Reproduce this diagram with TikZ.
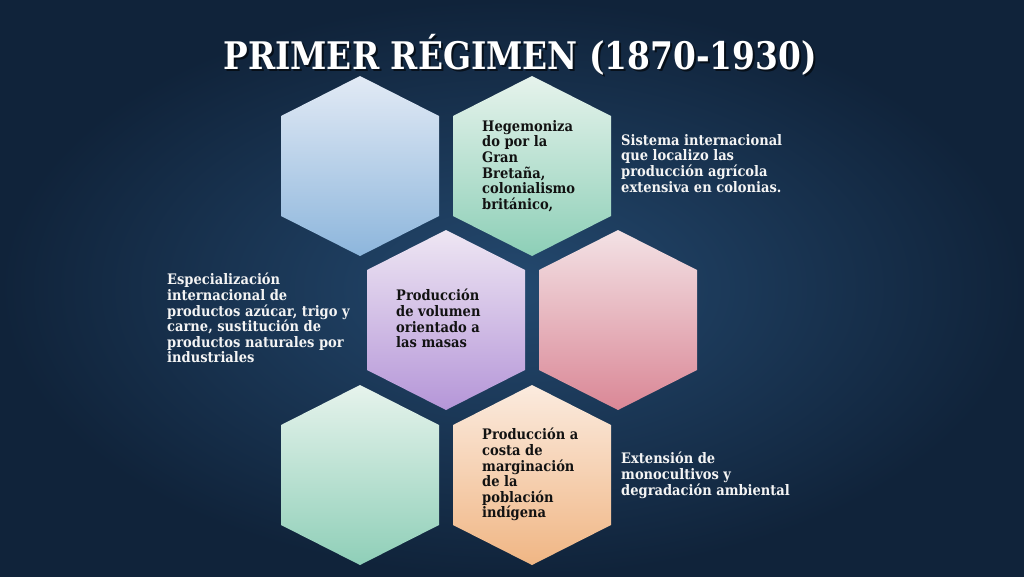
\documentclass[tikz,border=0pt]{standalone}
\usepackage{fontspec}
\newfontfamily\slab{DejaVu Serif}[FakeStretch=0.9]
\usetikzlibrary{shadings}
\definecolor{bgin}{HTML}{24496F}
\definecolor{bgout}{HTML}{10233A}
\definecolor{inkdark}{HTML}{121212}
\definecolor{inklight}{HTML}{F4F4F4}
\tikzset{
  hexbox/.style={line width=0pt},
  darktext/.style={anchor=north west, inner sep=0pt, align=left, text=inkdark,
     font=\slab\bfseries\fontsize{14.5}{15.6}\selectfont},
  lighttext/.style={anchor=north west, inner sep=0pt, align=left, text=inklight,
     font=\slab\bfseries\fontsize{14.5}{15.6}\selectfont},
  titletext/.style={font=\slab\bfseries\fontsize{38}{40}\selectfont},
}
\newcommand{\hexa}[4]{%
  \shade[hexbox, top color=#3, bottom color=#4]
    (#1,#2) ++(0,-90) -- ++(79,40) -- ++(0,100) -- ++(-79,40) -- ++(-79,-40) -- ++(0,-100) -- cycle;}
\begin{document}
\begin{tikzpicture}[x=1pt,y=-1pt]
\useasboundingbox (0,0) rectangle (1024,576);
\shade[inner color=bgin, outer color=bgout] (0,0) rectangle (1024,576);
% title
\node[titletext, text=black, opacity=0.6] (titleshadow) at (522,57) {\scalebox{0.96}[1]{PRIMER RÉGIMEN (1870-1930)}};
\node[titletext, text=white] (title) at (520,55) {\scalebox{0.96}[1]{PRIMER RÉGIMEN (1870-1930)}};
% hexagons
\definecolor{h1a}{HTML}{E2EAF5}\definecolor{h1b}{HTML}{8DB6DC}
\definecolor{h2a}{HTML}{E6F3EC}\definecolor{h2b}{HTML}{8DCFB7}
\definecolor{h3a}{HTML}{EEE6F3}\definecolor{h3b}{HTML}{B596D8}
\definecolor{h4a}{HTML}{F3E2E5}\definecolor{h4b}{HTML}{DA8796}
\definecolor{h5a}{HTML}{E6F3EC}\definecolor{h5b}{HTML}{8FCFB8}
\definecolor{h6a}{HTML}{FBEBDF}\definecolor{h6b}{HTML}{F0B684}
\hexa{360}{166}{h1a}{h1b}
\hexa{532}{166}{h2a}{h2b}
\hexa{446}{320}{h3a}{h3b}
\hexa{618}{320}{h4a}{h4b}
\hexa{360}{475}{h5a}{h5b}
\hexa{532}{475}{h6a}{h6b}
% texts
\node[darktext] (t2) at (482,120) {Hegemoniza\\do por la\\Gran\\Bretaña,\\colonialismo\\británico,};
\node[lighttext] (r1) at (621,134) {Sistema internacional\\que localizo las\\producción agrícola\\extensiva en colonias.};
\node[lighttext] (l1) at (167,273) {Especialización\\internacional de\\productos azúcar, trigo y\\carne, sustitución de\\productos naturales por\\industriales};
\node[darktext] (t3) at (396,289) {Producción\\de volumen\\orientado a\\las masas};
\node[darktext] (t6) at (482,428) {Producción a\\costa de\\marginación\\de la\\población\\indígena};
\node[lighttext] (r2) at (621,452) {Extensión de\\monocultivos y\\degradación ambiental};
\end{tikzpicture}
\end{document}
